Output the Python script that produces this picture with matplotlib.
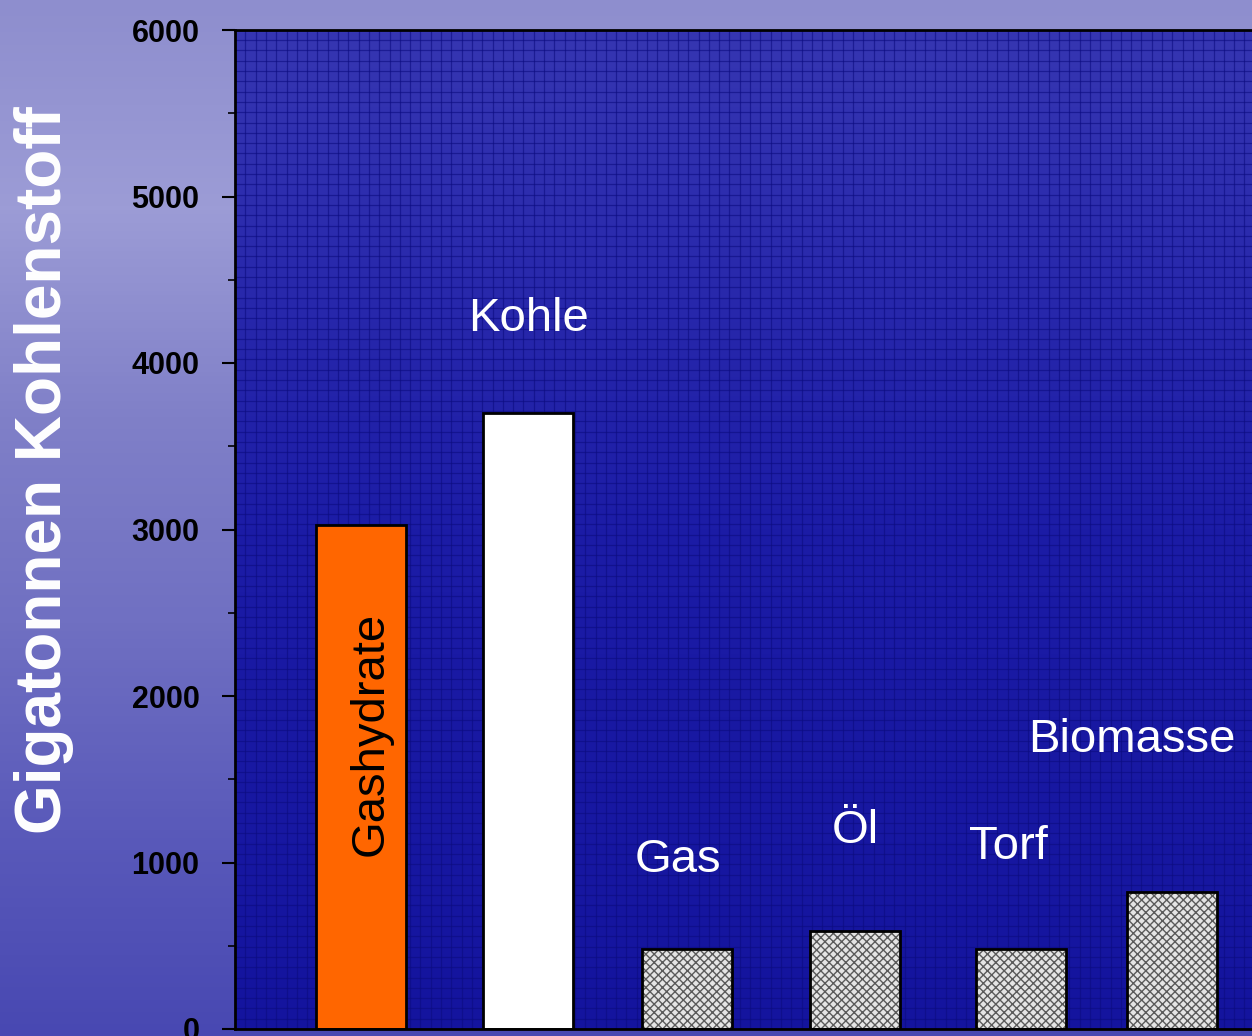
import matplotlib
matplotlib.use("Agg")
import matplotlib.pyplot as plt
import numpy as np
from matplotlib.colors import LinearSegmentedColormap
from matplotlib.ticker import MultipleLocator

plt.rcParams["font.family"] = ["Liberation Sans", "DejaVu Sans"]

# data (Gigatonnen Kohlenstoff)
categories = ["Gashydrate", "Kohle", "Gas", "Öl", "Torf", "Biomasse"]
values = [3030, 3700, 480, 590, 480, 820]
y_ticks = [0, 1000, 2000, 3000, 4000, 5000, 6000]

# layout (x in pixel-like units across the plot area)
bar_x = [126, 293, 452, 620, 786, 937]
bar_w = 90
label_pos = {
    "Kohle": (293, 4190),
    "Gas": (443, 945),
    "Öl": (620, 1120),
    "Torf": (773, 1020),
    "Biomasse": (897, 1665),
}

fig = plt.figure(figsize=(12.52, 10.36), dpi=100)

# page background gradient
bg = fig.add_axes([0, 0, 1, 1], zorder=-2)
bg_cmap = LinearSegmentedColormap.from_list(
    "page", ["#4848b2", "#5a5aba", "#7070c2", "#8080c8", "#9c9cd6", "#8e8ece"])
bg.imshow(np.linspace(0, 1, 256).reshape(-1, 1), aspect="auto", cmap=bg_cmap,
          origin="lower", extent=[0, 1, 0, 1])
bg.set_axis_off()

ax = fig.add_axes([235 / 1252, 7 / 1036, 1 - 235 / 1252, (1029 - 30) / 1036])
ax.set_xlim(0, 1017)
ax.set_ylim(0, 6000)

# plot area gradient + fine grid
in_cmap = LinearSegmentedColormap.from_list("inner", ["#14149e", "#1c1ca6", "#3636b2"])
ax.imshow(np.linspace(0, 1, 256).reshape(-1, 1), aspect="auto", cmap=in_cmap,
          origin="lower", extent=[0, 1, 0, 1], transform=ax.transAxes, zorder=0)
for gx in np.arange(0, 1, 10.3 / 1017):
    ax.axvline(gx * 1017, color="#0c0c80", lw=0.9, alpha=0.6, zorder=0.5)
for gy in np.arange(0, 1, 10.3 / 999):
    ax.axhline(gy * 6000, color="#0c0c80", lw=0.9, alpha=0.6, zorder=0.5)

colors = ["#ff6600", "#ffffff", "#d8d8d8", "#d8d8d8", "#d8d8d8", "#d8d8d8"]
for i, (x, v) in enumerate(zip(bar_x, values)):
    if i >= 2:
        ax.bar(x, v, width=bar_w, color="#e4e4e4", edgecolor="#5a5a5a",
               hatch="xxxx", linewidth=0, zorder=2)
        ax.bar(x, v, width=bar_w, fill=False, edgecolor="black", linewidth=2, zorder=3)
    else:
        ax.bar(x, v, width=bar_w, color=colors[i], edgecolor="black", linewidth=2, zorder=3)

ax.text(bar_x[0] + 10, 1770, categories[0], rotation=90, ha="center", va="center",
        fontsize=34, color="black", zorder=4)
for name, (lx, ly) in label_pos.items():
    ax.text(lx, ly, name, ha="center", va="baseline", fontsize=34, color="white", zorder=4)

ax.set_yticks(y_ticks)
ax.set_yticklabels([str(t) for t in y_ticks], fontsize=22, fontweight="bold")
ax.yaxis.set_minor_locator(MultipleLocator(500))
ax.tick_params(axis="y", which="major", direction="out", length=9.5, width=1.5, pad=16)
ax.tick_params(axis="y", which="minor", direction="out", length=5, width=1.2)
ax.set_xticks([])
for s in ["left", "top", "bottom"]:
    ax.spines[s].set_linewidth(2)
    ax.spines[s].set_zorder(5)
ax.spines["right"].set_visible(False)

fig.text(44 / 1252, 1 - 470 / 1036, "Gigatonnen Kohlenstoff", rotation=90,
         ha="center", va="center", fontsize=46, fontweight="bold", color="white")

fig.savefig("out.png", dpi=100)
